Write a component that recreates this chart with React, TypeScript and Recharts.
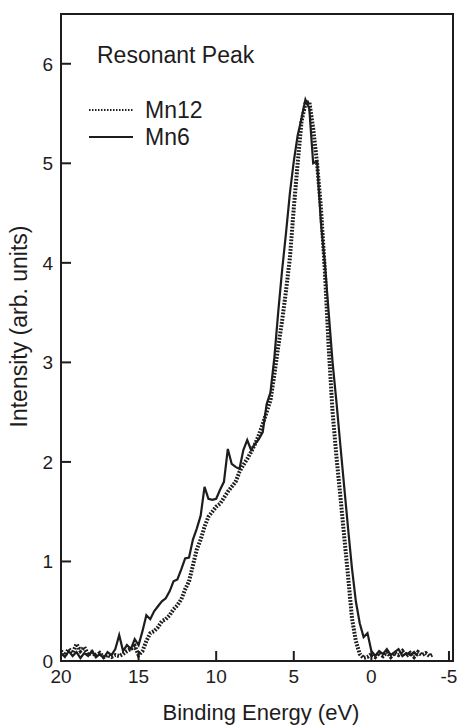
import { LineChart, Line, XAxis, YAxis, ReferenceArea } from "recharts";

const energy = [
  20, 19.75, 19.5, 19.25, 19, 18.75, 18.5, 18.25, 18, 17.75, 17.5, 17.25, 17, 16.75, 16.5, 16.25,
  16, 15.75, 15.5, 15.25, 15, 14.75, 14.5, 14.25, 14, 13.75, 13.5, 13.25, 13, 12.75, 12.5, 12.25,
  12, 11.75, 11.5, 11.25, 11, 10.75, 10.5, 10.25, 10, 9.75, 9.5, 9.25, 9, 8.75, 8.5, 8.25,
  8, 7.75, 7.5, 7.25, 7, 6.75, 6.5, 6.25, 6, 5.75, 5.5, 5.25, 5, 4.75, 4.5, 4.25,
  4, 3.75, 3.5, 3.25, 3, 2.75, 2.5, 2.25, 2, 1.75, 1.5, 1.25, 1, 0.75, 0.5, 0.25,
  0, -0.25, -0.5, -0.75, -1, -1.25, -1.5, -1.75, -2, -2.25, -2.5, -2.75, -3, -3.25, -3.5, -3.75,
  -4,
];

const mn6 = [
  0.08, 0.04, 0.1, 0.05, 0.09, 0.03, 0.08, 0.05, 0.1, 0.04, 0.07, 0.03, 0.09, 0.06, 0.12, 0.26,
  0.1, 0.16, 0.12, 0.22, 0.16, 0.3, 0.46, 0.42, 0.5, 0.55, 0.6, 0.63, 0.7, 0.8, 0.82, 0.92,
  1.03, 1.04, 1.22, 1.33, 1.46, 1.75, 1.63, 1.62, 1.63, 1.72, 1.8, 2.13, 1.98, 1.95, 1.93, 2.12,
  2.22, 2.12, 2.18, 2.23, 2.3, 2.58, 2.7, 3.05, 3.51, 3.93, 4.3, 4.7, 5.02, 5.28, 5.45, 5.64,
  5.55, 5.0, 5.02, 4.4, 4.0, 3.5, 3.0, 2.6, 2.17, 1.75, 1.33, 0.93, 0.6, 0.38, 0.24, 0.28,
  0.1, 0.05, 0.1, 0.07, 0.12, 0.06, 0.09, 0.12, 0.05, 0.08, 0.06, 0.09, 0.05, null, null, null,
  null,
];

const mn12 = [
  0.1, 0.06, 0.12, 0.08, 0.17, 0.1, 0.14, 0.06, 0.09, 0.05, 0.08, 0.04, 0.06, 0.04, 0.06, 0.05,
  0.07, 0.1, 0.12, 0.15, 0.06, 0.1, 0.2, 0.28, 0.3, 0.34, 0.4, 0.42, 0.46, 0.52, 0.56, 0.62,
  0.72, 0.8, 0.96, 1.12, 1.22, 1.35, 1.45, 1.5, 1.55, 1.58, 1.64, 1.7, 1.75, 1.8, 1.9, 1.97,
  2.03, 2.1, 2.18, 2.27, 2.38, 2.5, 2.62, 2.88, 3.16, 3.42, 3.72, 4.05, 4.55, 5.0, 5.42, 5.6,
  5.62, 5.35, 5.0, 4.55, 3.93, 3.15, 2.5, 2.05, 1.66, 1.25, 0.85, 0.43, 0.2, 0.07, 0.03, 0.04,
  0.07, 0.04, 0.08, 0.05, 0.09, 0.04, 0.08, 0.06, 0.1, 0.05, 0.08, 0.04, 0.09, 0.06, 0.08, 0.05,
  0.07,
];

const xTicks = [20, 15, 10, 5, 0, -5];
const yTicks = [0, 1, 2, 3, 4, 5, 6];

const INK = "#1e1c1d";
const FONT = "'Liberation Sans', Arial, Helvetica, sans-serif";

const data = energy.map((e, i) => ({ energy: e, mn6: mn6[i], mn12: mn12[i] }));

function YLabel({ viewBox }: any) {
  const cx = viewBox.x + 27;
  const cy = viewBox.y + viewBox.height / 2 - 11;
  return (
    <text
      x={cx}
      y={cy}
      transform={`rotate(-90 ${cx} ${cy})`}
      textAnchor="middle"
      fontSize={23}
      fill={INK}
      fontFamily={FONT}
    >
      Intensity (arb. units)
    </text>
  );
}

function XLabel({ viewBox }: any) {
  return (
    <text
      x={viewBox.x + viewBox.width / 2 + 4}
      y={720}
      textAnchor="middle"
      fontSize={22}
      fill={INK}
      fontFamily={FONT}
    >
      Binding Energy (eV)
    </text>
  );
}

export default function App() {
  return (
    <div style={{ position: "absolute", left: 0, top: 0, width: 458, height: 727, background: "#fff", fontFamily: FONT }}>
      <LineChart width={458} height={727} data={data} margin={{ top: 14, right: 5, bottom: 0, left: 0 }}>
        <ReferenceArea
          x1={-5.26}
          x2={20}
          y1={0}
          y2={6.5}
          fill="none"
          stroke={INK}
          strokeWidth={2}
          ifOverflow="visible"
        />
        <XAxis
          dataKey="energy"
          type="number"
          domain={[-5.26, 20]}
          reversed
          allowDataOverflow
          ticks={xTicks}
          interval={0}
          height={66}
          tickSize={-10}
          tickMargin={19}
          axisLine={{ stroke: INK, strokeWidth: 2 }}
          tickLine={{ stroke: INK, strokeWidth: 2 }}
          tick={{ fontSize: 19, fill: INK, fontFamily: FONT }}
          label={<XLabel />}
        />
        <YAxis
          type="number"
          domain={[0, 6.5]}
          allowDataOverflow
          ticks={yTicks}
          interval={0}
          width={61}
          tickSize={-10}
          tickMargin={18}
          axisLine={{ stroke: INK, strokeWidth: 2 }}
          tickLine={{ stroke: INK, strokeWidth: 2 }}
          tick={{ fontSize: 19, fill: INK, fontFamily: FONT }}
          label={<YLabel />}
        />
        <Line
          dataKey="mn12"
          type="linear"
          stroke={INK}
          strokeWidth={4}
          strokeDasharray="1.8 1.4"
          dot={false}
          isAnimationActive={false}
        />
        <Line
          dataKey="mn6"
          type="linear"
          stroke={INK}
          strokeWidth={2.2}
          dot={false}
          isAnimationActive={false}
        />
      </LineChart>
      <svg
        width={458}
        height={727}
        style={{ position: "absolute", left: 0, top: 0, pointerEvents: "none" }}
      >
        <text x={97} y={63} fontSize={23} fill={INK} fontFamily={FONT}>
          Resonant Peak
        </text>
        <line x1={89} x2={133} y1={110} y2={110} stroke={INK} strokeWidth={2} strokeDasharray="1.5 1.5" />
        <text x={145} y={118} fontSize={23} fill={INK} fontFamily={FONT}>
          Mn12
        </text>
        <line x1={89} x2={133} y1={137} y2={137} stroke={INK} strokeWidth={2} />
        <text x={145} y={145} fontSize={23} fill={INK} fontFamily={FONT}>
          Mn6
        </text>
      </svg>
    </div>
  );
}
